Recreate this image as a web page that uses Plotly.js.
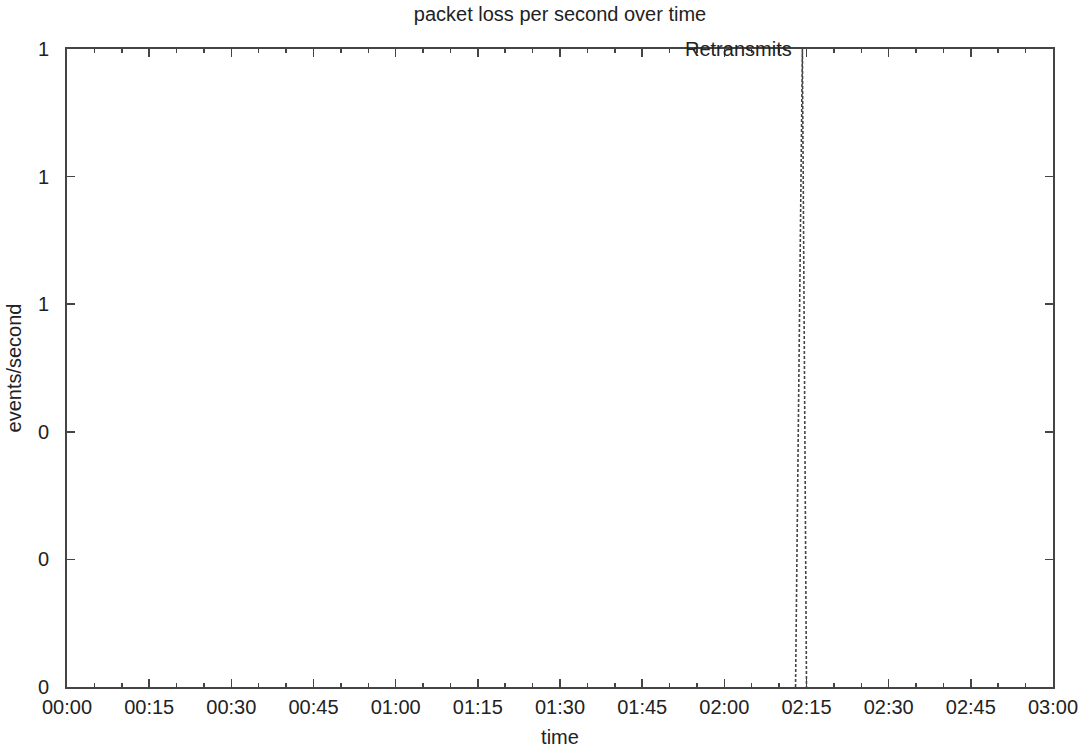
<!DOCTYPE html>
<html>
<head>
<meta charset="utf-8">
<script src="https://cdn.plot.ly/plotly-3.0.1.min.js"></script>
<style>
  html, body { margin: 0; padding: 0; background: #fff; }
  #chart { width: 1092px; height: 756px; }
</style>
</head>
<body>
<div id="chart"></div>
<script>
// Retransmit events per second, sampled over a three-hour run
const times = ['2000-01-01 02:13:00', '2000-01-01 02:14:15', '2000-01-01 02:15:00'];
const retransmits = [0, 1, 0];

const xRange = ['2000-01-01 00:00:00', '2000-01-01 03:00:00'];
const yTickVals = [0, 0.2, 0.4, 0.6, 0.8, 1];
const yTickText = ['0', '0', '0', '1', '1', '1'];

const FONT = 'Liberation Sans, Arial, sans-serif';
const INK = '#222';
const FRAME = '#444';
const SIZE = 20;

const trace = {
  x: times,
  y: retransmits,
  type: 'scatter',
  mode: 'lines',
  name: 'Retransmits',
  line: { color: '#444', width: 1.6, dash: '3px,2px' },
  cliponaxis: false,
  hoverinfo: 'skip'
};

const layout = {
  width: 1092,
  height: 756,
  margin: { l: 67, r: 39, t: 49, b: 69 },
  paper_bgcolor: '#fff',
  plot_bgcolor: '#fff',
  showlegend: false,
  font: { family: FONT, size: SIZE, color: INK },
  title: {
    text: 'packet loss per second over time',
    font: { family: FONT, size: SIZE, color: INK },
    x: 0.5, xref: 'paper', xanchor: 'center',
    y: 0.982, yref: 'container', yanchor: 'middle'
  },
  xaxis: {
    type: 'date',
    range: xRange,
    tickformat: '%H:%M',
    dtick: 15 * 60 * 1000,
    tick0: xRange[0],
    ticks: 'inside',
    ticklen: 8,
    tickwidth: 1.5,
    tickcolor: FRAME,
    minor: { dtick: 5 * 60 * 1000, ticks: 'inside', ticklen: 4, tickwidth: 1.5, tickcolor: FRAME, showgrid: false },
    showline: true,
    linecolor: FRAME,
    linewidth: 2,
    mirror: 'ticks',
    showgrid: false,
    zeroline: false,
    ticklabelstandoff: 1,
    tickfont: { family: FONT, size: SIZE, color: INK },
    title: { text: 'time', font: { family: FONT, size: SIZE, color: INK }, standoff: 13 }
  },
  yaxis: {
    range: [0, 1],
    tickvals: yTickVals,
    ticktext: yTickText,
    ticks: 'inside',
    ticklen: 8,
    tickwidth: 1.5,
    tickcolor: FRAME,
    showline: true,
    linecolor: FRAME,
    linewidth: 2,
    mirror: 'ticks',
    showgrid: false,
    zeroline: false,
    ticklabelstandoff: 12,
    tickfont: { family: FONT, size: SIZE, color: INK },
    title: { text: 'events/second', font: { family: FONT, size: SIZE, color: INK }, standoff: 11 }
  },
  annotations: [{
    text: 'Retransmits',
    xref: 'paper', yref: 'paper',
    x: 0.6815, y: 1.0,
    xanchor: 'center', yanchor: 'middle',
    showarrow: false,
    font: { family: FONT, size: SIZE, color: INK }
  }]
};

Plotly.newPlot('chart', [trace], layout, { staticPlot: true, displayModeBar: false });
</script>
</body>
</html>
